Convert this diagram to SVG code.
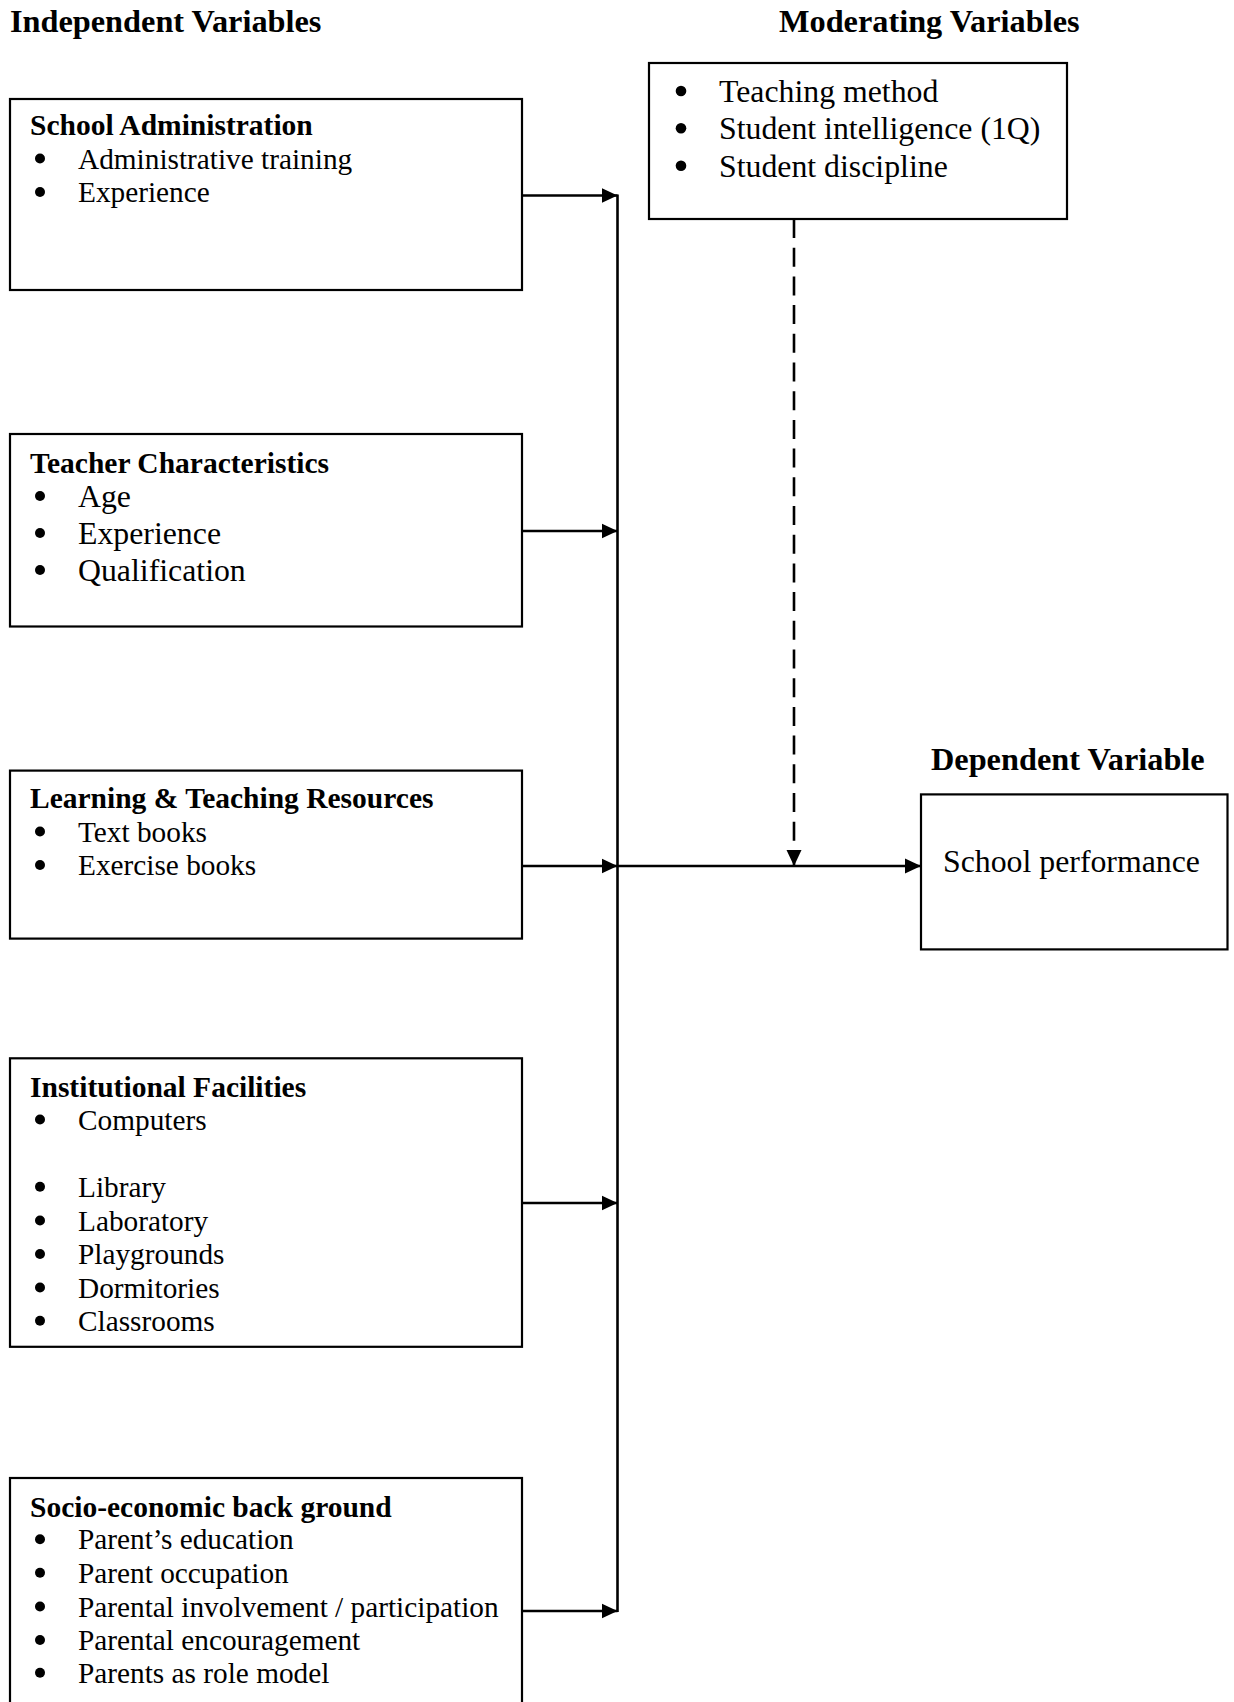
<svg xmlns="http://www.w3.org/2000/svg" width="1234" height="1702" viewBox="0 0 1234 1702">
<style>
  text { font-family: "Liberation Serif", "Times New Roman", serif; fill: #000; }
  .title { font-size: 32.3px; font-weight: bold; }
  .head { font-size: 29.5px; font-weight: bold; }
  .item { font-size: 29.3px; }
  .item13 { font-size: 31.8px; }
  .box { fill: #fff; stroke: #000; stroke-width: 2.2; }
  .bul { fill: #000; }
  .conn { stroke: #000; stroke-width: 2.6; fill: none; }
  .dash { stroke-dasharray: 19 9.7; }
</style>
<defs>
  <marker id="arr" markerUnits="userSpaceOnUse" markerWidth="16" markerHeight="16" viewBox="0 0 16 16" refX="16" refY="8" orient="auto">
    <path d="M0,0.5 L16,8 L0,15.5 Z" fill="#000"/>
  </marker>
</defs>
<rect width="1234" height="1702" fill="#fff"/>

<g id="titles">
  <text class="title" x="10" y="32">Independent Variables</text>
  <text class="title" x="779" y="32">Moderating Variables</text>
  <text class="title" x="931" y="770">Dependent Variable</text>
</g>

<g id="connectors">
  <line class="conn" x1="617.5" y1="194.5" x2="617.5" y2="1612"/>
  <line class="conn" x1="522" y1="195.5" x2="617.5" y2="195.5" marker-end="url(#arr)"/>
  <line class="conn" x1="522" y1="531" x2="617.5" y2="531" marker-end="url(#arr)"/>
  <line class="conn" x1="522" y1="866" x2="617.5" y2="866" marker-end="url(#arr)"/>
  <line class="conn" x1="617.5" y1="866" x2="921" y2="866" marker-end="url(#arr)"/>
  <line class="conn" x1="522" y1="1203" x2="617.5" y2="1203" marker-end="url(#arr)"/>
  <line class="conn" x1="522" y1="1611" x2="617.5" y2="1611" marker-end="url(#arr)"/>
  <line class="conn dash" x1="794" y1="219" x2="794" y2="866" marker-end="url(#arr)"/>
</g>

<g id="school-administration">
  <rect class="box" x="10" y="99" width="512" height="191"/>
  <text class="head" x="30" y="135">School Administration</text>
  <circle class="bul" cx="40" cy="158.5" r="5"/>
  <text class="item" x="78" y="168.5">Administrative training</text>
  <circle class="bul" cx="40" cy="192" r="5"/>
  <text class="item" x="78" y="202">Experience</text>
</g>

<g id="teacher-characteristics">
  <rect class="box" x="10" y="434" width="512" height="192.5"/>
  <text class="head" x="30" y="473">Teacher Characteristics</text>
  <circle class="bul" cx="40" cy="496" r="5"/>
  <text class="item13" x="78" y="507">Age</text>
  <circle class="bul" cx="40" cy="533" r="5"/>
  <text class="item13" x="78" y="544">Experience</text>
  <circle class="bul" cx="40" cy="570" r="5"/>
  <text class="item13" x="78" y="581">Qualification</text>
</g>

<g id="learning-teaching-resources">
  <rect class="box" x="10" y="770.6" width="512" height="168"/>
  <text class="head" x="30" y="808">Learning &amp; Teaching Resources</text>
  <circle class="bul" cx="40" cy="831.5" r="5"/>
  <text class="item" x="78" y="841.5">Text books</text>
  <circle class="bul" cx="40" cy="865" r="5"/>
  <text class="item" x="78" y="875">Exercise books</text>
</g>

<g id="institutional-facilities">
  <rect class="box" x="10" y="1058.3" width="512" height="288.5"/>
  <text class="head" x="30" y="1096.5">Institutional Facilities</text>
  <circle class="bul" cx="40" cy="1119.5" r="5"/>
  <text class="item" x="78" y="1129.5">Computers</text>
  <circle class="bul" cx="40" cy="1186.7" r="5"/>
  <text class="item" x="78" y="1196.7">Library</text>
  <circle class="bul" cx="40" cy="1220.5" r="5"/>
  <text class="item" x="78" y="1230.5">Laboratory</text>
  <circle class="bul" cx="40" cy="1254" r="5"/>
  <text class="item" x="78" y="1264">Playgrounds</text>
  <circle class="bul" cx="40" cy="1287.5" r="5"/>
  <text class="item" x="78" y="1297.5">Dormitories</text>
  <circle class="bul" cx="40" cy="1320.7" r="5"/>
  <text class="item" x="78" y="1330.7">Classrooms</text>
</g>

<g id="socio-economic-background">
  <rect class="box" x="10" y="1478" width="512" height="240"/>
  <text class="head" x="30" y="1516.5">Socio-economic back ground</text>
  <circle class="bul" cx="40" cy="1539.3" r="5"/>
  <text class="item" x="78" y="1549.3">Parent’s education</text>
  <circle class="bul" cx="40" cy="1572.7" r="5"/>
  <text class="item" x="78" y="1582.7">Parent occupation</text>
  <circle class="bul" cx="40" cy="1606.5" r="5"/>
  <text class="item" x="78" y="1616.5">Parental involvement / participation</text>
  <circle class="bul" cx="40" cy="1640" r="5"/>
  <text class="item" x="78" y="1650">Parental encouragement</text>
  <circle class="bul" cx="40" cy="1672.7" r="5"/>
  <text class="item" x="78" y="1682.7">Parents as role model</text>
</g>

<g id="moderating-variables">
  <rect class="box" x="649" y="63" width="418" height="156"/>
  <circle class="bul" cx="681" cy="91" r="5.3"/>
  <text class="item13" x="719" y="102">Teaching method</text>
  <circle class="bul" cx="681" cy="128.3" r="5.3"/>
  <text class="item13" x="719" y="139.3">Student intelligence (1Q)</text>
  <circle class="bul" cx="681" cy="165.7" r="5.3"/>
  <text class="item13" x="719" y="176.7">Student discipline</text>
</g>

<g id="school-performance">
  <rect class="box" x="921" y="794.4" width="306.5" height="155"/>
  <text class="item13" x="943" y="871.5">School performance</text>
</g>
</svg>
